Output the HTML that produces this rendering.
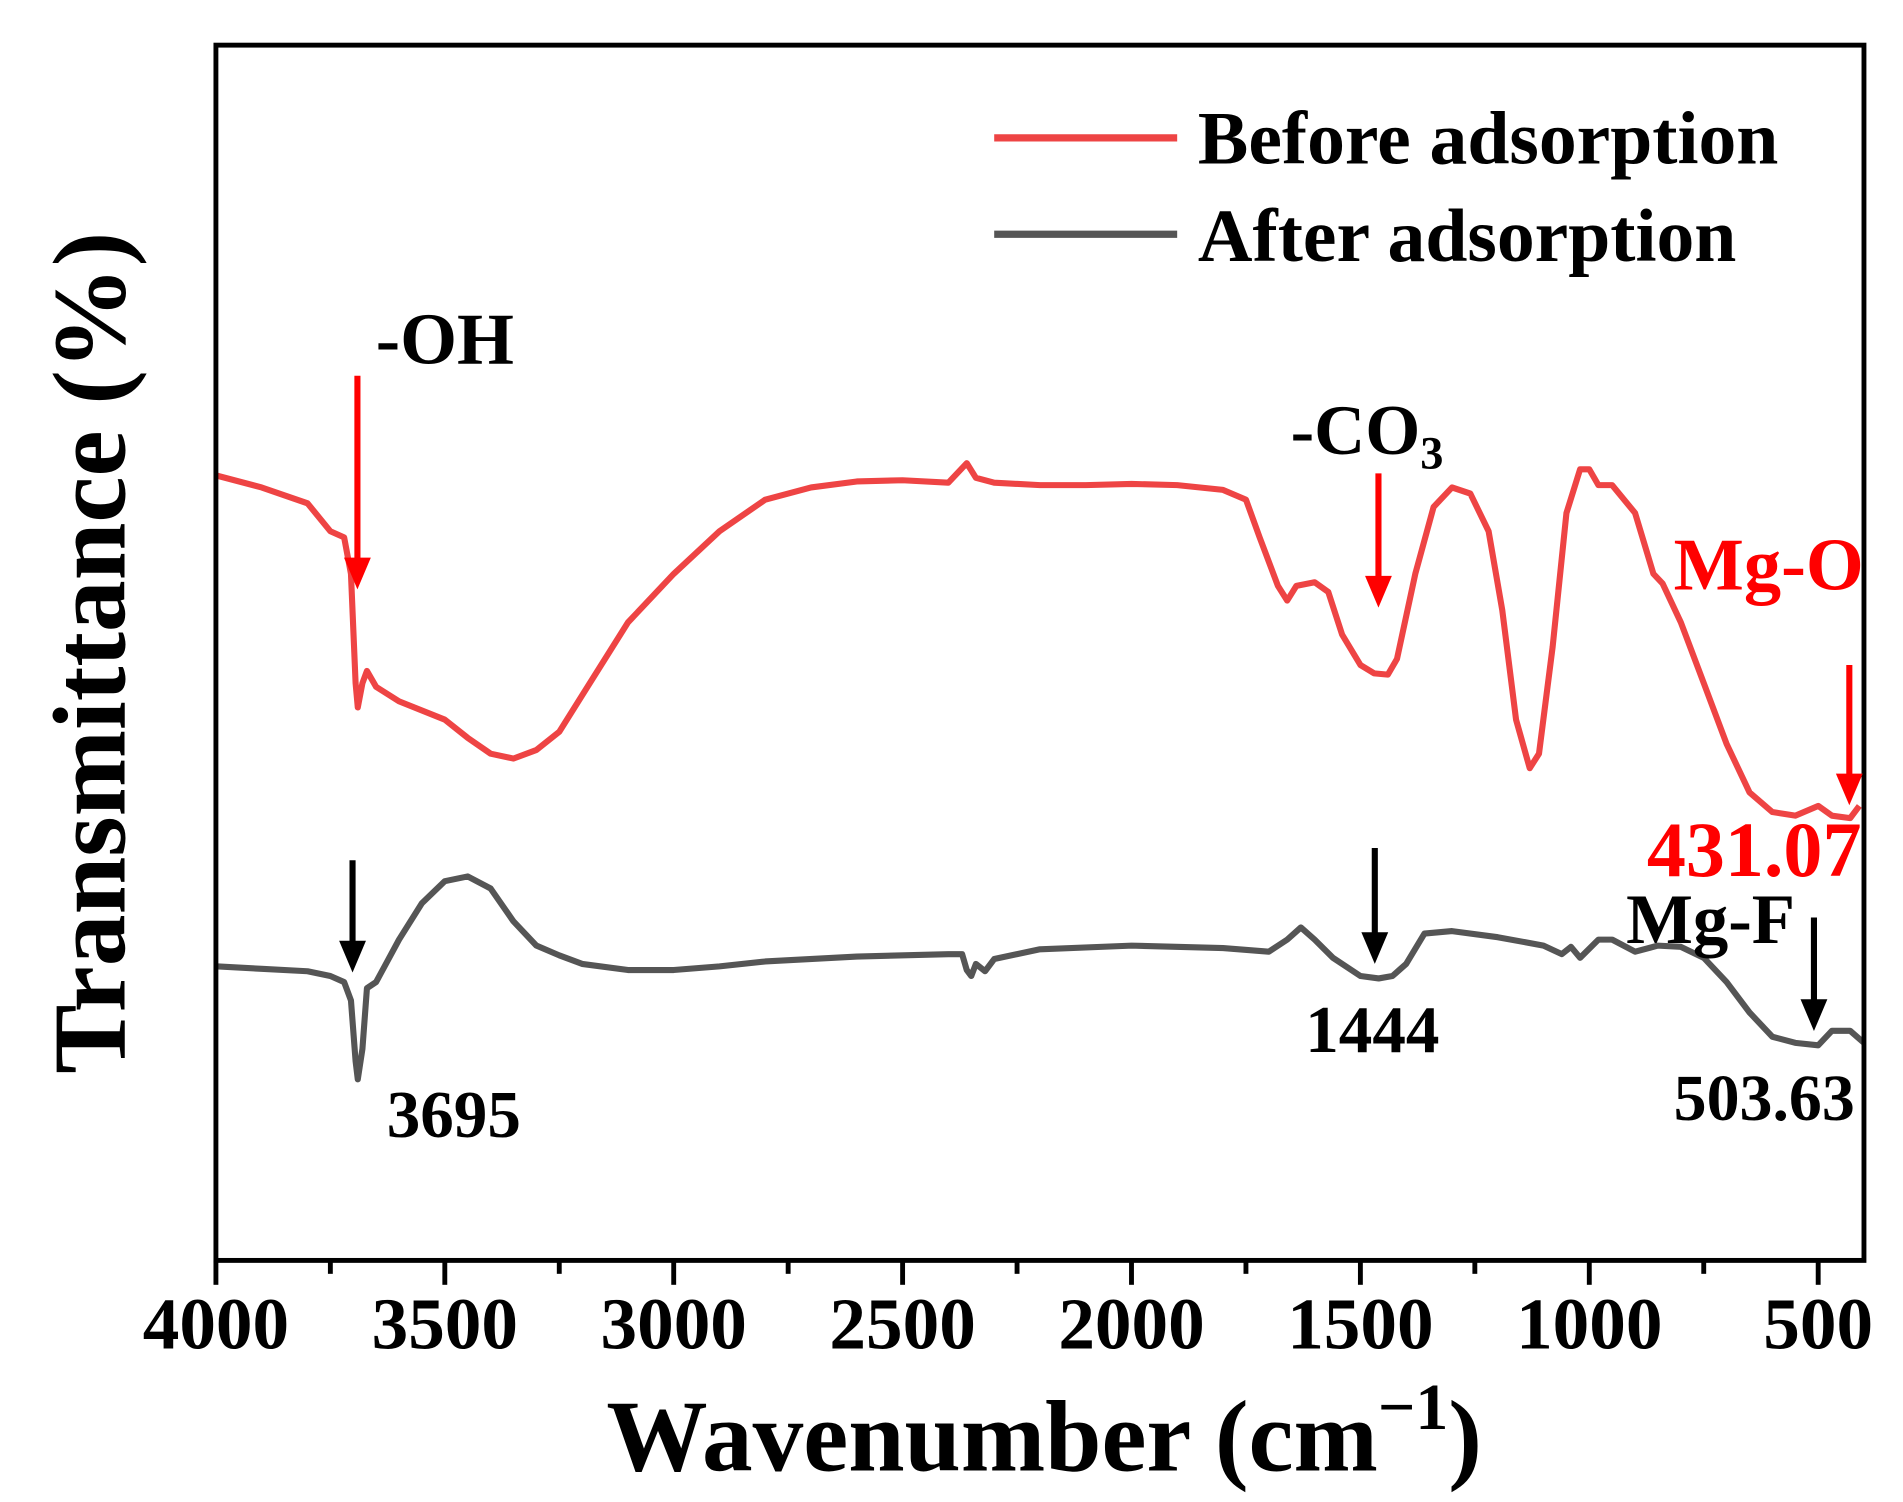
<!DOCTYPE html>
<html><head><meta charset="utf-8"><style>
html,body{margin:0;padding:0;background:#fff;}
svg{display:block;}
text{font-family:"Liberation Serif",serif;font-weight:bold;}
</style></head><body>
<svg id="chart" width="1903" height="1502" viewBox="0 0 1560 1231" preserveAspectRatio="none" xmlns="http://www.w3.org/2000/svg">
<g id="plot"></g>
</svg>
<script>
const wnBefore=[4000,3900,3800,3750,3720,3705,3695,3690,3680,3670,3650,3600,3500,3450,3400,3350,3300,3250,3200,3100,3000,2900,2800,2700,2600,2500,2400,2360,2340,2300,2200,2100,2000,1900,1800,1750,1720,1680,1660,1640,1600,1570,1540,1500,1470,1440,1420,1380,1340,1300,1260,1220,1190,1160,1130,1110,1080,1050,1020,1000,980,950,900,860,840,800,750,700,650,600,550,500,470,430,410];
const tBefore=[64.6,63.6,62.3,60.0,59.5,56.5,47.5,45.5,47.5,48.5,47.2,46.0,44.5,43.0,41.7,41.3,42.0,43.5,46.5,52.5,56.5,60.0,62.6,63.6,64.1,64.2,64.0,65.6,64.4,64.0,63.8,63.8,63.9,63.8,63.4,62.6,59.5,55.5,54.3,55.5,55.8,55.0,51.5,49.0,48.3,48.2,49.5,56.5,62.0,63.6,63.1,60.0,53.5,44.5,40.5,41.7,50.5,61.5,65.1,65.1,63.8,63.8,61.5,56.5,55.7,52.5,47.5,42.5,38.5,36.9,36.6,37.4,36.6,36.4,37.4];
const wnAfter=[4000,3900,3800,3750,3720,3705,3695,3690,3680,3670,3650,3600,3550,3500,3450,3400,3350,3300,3250,3200,3100,3000,2900,2800,2600,2400,2370,2360,2350,2340,2320,2300,2200,2000,1800,1700,1660,1630,1600,1560,1500,1460,1430,1400,1360,1300,1200,1100,1060,1040,1020,980,950,900,850,800,750,700,650,600,550,500,470,430,400];
const tAfter=[24.2,24.0,23.8,23.4,22.9,21.4,16.4,14.9,17.4,22.4,22.9,26.4,29.4,31.2,31.6,30.6,27.9,25.9,25.1,24.4,23.9,23.9,24.2,24.6,25.0,25.2,25.2,23.9,23.4,24.4,23.8,24.8,25.6,25.9,25.7,25.4,26.4,27.4,26.4,24.9,23.4,23.2,23.4,24.4,26.9,27.1,26.6,25.9,25.2,25.8,24.9,26.4,26.4,25.4,25.9,25.8,24.9,22.9,20.4,18.4,17.9,17.7,18.9,18.9,17.9];
const xMajor=[4000,3500,3000,2500,2000,1500,1000,500];
const xMinor=[3750,3250,2750,2250,1750,1250,750];
const L=177,R=1528,T=37,B=1033;
const X=w=>L+(4000-w)*(R-L)/3600;
const Y=v=>B-v*9.96;
const NS='http://www.w3.org/2000/svg';
const g=document.getElementById('plot');
function mk(tag,attrs,parent){const e=document.createElementNS(NS,tag);for(const k in attrs)e.setAttribute(k,attrs[k]);(parent||g).appendChild(e);return e;}
function path(ws,ts,color,name){
  let d=ws.map((w,i)=>(i?'L':'M')+X(w).toFixed(1)+','+Y(ts[i]).toFixed(1)).join(' ');
  const p=mk('path',{d:d,fill:'none',stroke:color,'stroke-width':5,'stroke-linejoin':'round'});
  
  
}
path(wnBefore,tBefore,'#ee4444','before-adsorption-line');
path(wnAfter,tAfter,'#555555','after-adsorption-line');
const frame=mk('rect',{x:L,y:T,width:R-L,height:B-T,fill:'none',stroke:'#000','stroke-width':4});


xMajor.forEach(w=>{
  const t=mk('line',{x1:X(w),x2:X(w),y1:B,y2:B+20,stroke:'#000','stroke-width':4});
  
  
  const lb=mk('text',{x:X(w),y:1105,'text-anchor':'middle','font-size':60});
  lb.textContent=w;
  
  
});
xMinor.forEach(w=>{
  const t=mk('line',{x1:X(w),x2:X(w),y1:B,y2:B+11,stroke:'#000','stroke-width':4});
  
  
});
function arrow(x,y1,y2,color,name){
  const a=mk('g',{});
  
  
  mk('line',{x1:x,x2:x,y1:y1,y2:y2-20,stroke:color,'stroke-width':5},a);
  mk('polygon',{points:`${x-11},${y2-26} ${x+11},${y2-26} ${x},${y2}`,fill:color},a);
}
arrow(293,308,483,'#ff0000','oh-arrow');
arrow(1130,388,498,'#ff0000','co3-arrow');
arrow(1516,545,660,'#ff0000','mgo-arrow');
arrow(289,705,797,'#000','arrow-3695');
arrow(1127,695,790,'#000','arrow-1444');
arrow(1487,752,845,'#000','arrow-503');
</script>
<svg style="position:absolute;left:0;top:0" width="1903" height="1502" viewBox="0 0 1560 1231" preserveAspectRatio="none" xmlns="http://www.w3.org/2000/svg">
<line x1="815" y1="113" x2="965" y2="113" stroke="#ee4444" stroke-width="6"/>
<text x="982" y="134" font-size="62">Before adsorption</text>
<line x1="815" y1="192" x2="965" y2="192" stroke="#555555" stroke-width="6"/>
<text x="982" y="214" font-size="62">After adsorption</text>
<text x="308" y="298" font-size="60">-OH</text>
<text x="1058" y="372" font-size="58">-CO<tspan font-size="38" dy="12">3</tspan></text>
<text x="1372" y="483" font-size="61" fill="#ff0000">Mg-O</text>
<text x="1350" y="718" font-size="64" fill="#ff0000">431.07</text>
<text x="1333" y="773" font-size="58">Mg-F</text>
<text x="317" y="932" font-size="55">3695</text>
<text x="1070" y="862" font-size="55">1444</text>
<text x="1372" y="918" font-size="54">503.63</text>
<text x="856" y="1205" font-size="83" text-anchor="middle">Wavenumber (cm<tspan font-size="54" dy="-34">−1</tspan><tspan dy="34">)</tspan></text>
<text transform="translate(102,535) rotate(-90)" font-size="85" text-anchor="middle">Transmittance (%)</text>
</svg>
</body></html>
